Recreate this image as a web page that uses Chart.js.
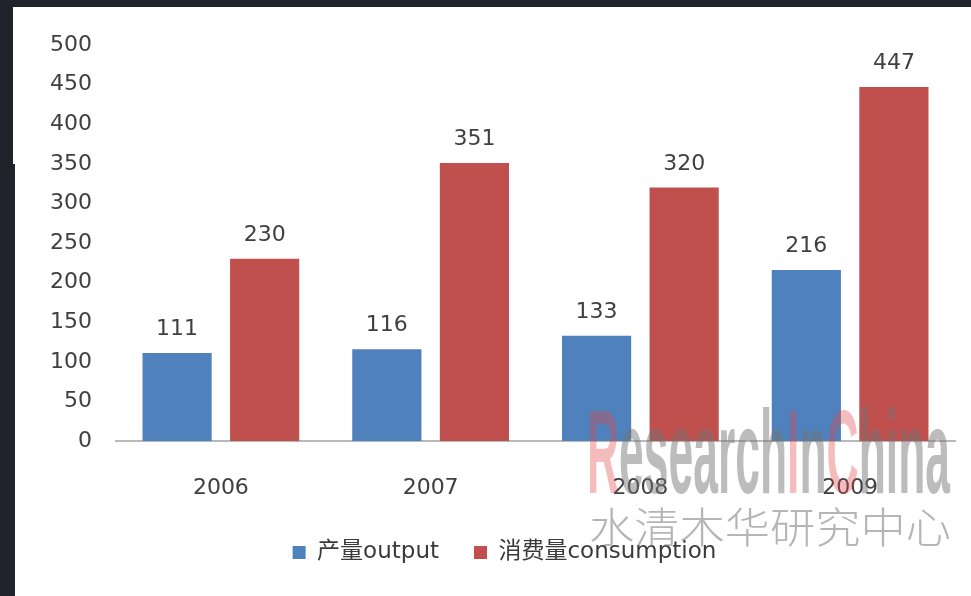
<!DOCTYPE html>
<html>
<head>
<meta charset="utf-8">
<script src="https://cdn.jsdelivr.net/npm/chart.js@4/dist/chart.umd.min.js"></script>
<style>
  html, body { margin: 0; padding: 0; background: #1f242c; width: 971px; height: 596px; overflow: hidden; }
  #p1 { position: absolute; left: 13px; top: 7px; width: 958px; height: 157px; background: #fff; }
  #p2 { position: absolute; left: 15px; top: 163px; width: 956px; height: 433px; background: #fff; }
  #wrap { position: absolute; left: 0; top: 0; width: 971px; height: 596px; }
</style>
</head>
<body>
<div id="p1"></div>
<div id="p2"></div>
<div id="wrap"><canvas id="c" width="971" height="596"></canvas></div>
<script>
const categories = ['2006', '2007', '2008', '2009'];
const outputValues = [111, 116, 133, 216];
const consumptionValues = [230, 351, 320, 447];
const seriesNames = ['产量output', '消费量consumption'];
const yMax = 500;
const yStep = 50;
const watermarkLatin = 'ResearchInChina';
const watermarkCJK = '水清木华研究中心';

const numFont = "'DejaVu Sans', 'Noto Sans CJK SC', sans-serif";

const valueLabels = {
  id: 'valueLabels',
  afterDatasetsDraw(chart) {
    const ctx = chart.ctx;
    ctx.save();
    ctx.font = "22px " + numFont;
    ctx.fillStyle = '#404040';
    ctx.textAlign = 'center';
    ctx.textBaseline = 'alphabetic';
    chart.data.datasets.forEach((ds, i) => {
      const meta = chart.getDatasetMeta(i);
      meta.data.forEach((bar, j) => {
        ctx.fillText(String(ds.data[j]), bar.x, bar.y - 18);
      });
    });
    ctx.restore();
  }
};

const watermark = {
  id: 'watermark',
  afterDatasetsDraw(chart) {
    const ctx = chart.ctx;
    ctx.save();
    ctx.font = "bold 119px 'Liberation Sans', Arial, sans-serif";
    ctx.textBaseline = 'alphabetic';
    ctx.textAlign = 'left';
    const full = ctx.measureText(watermarkLatin).width;
    const sx = 363 / full;
    ctx.translate(587, 493);
    ctx.scale(sx, 1);
    let x = 0;
    const pinkIdx = new Set([0, 8, 10]);
    for (let k = 0; k < watermarkLatin.length; k++) {
      const ch = watermarkLatin[k];
      ctx.fillStyle = pinkIdx.has(k) ? 'rgba(225,70,70,0.36)' : 'rgba(115,115,115,0.48)';
      ctx.fillText(ch, x, 0);
      x += ctx.measureText(ch).width;
    }
    ctx.restore();
    ctx.save();
    ctx.font = "300 42px 'Noto Sans CJK SC', sans-serif";
    ctx.textBaseline = 'alphabetic';
    const w2 = ctx.measureText(watermarkCJK).width;
    ctx.translate(589, 543);
    ctx.scale(362 / w2, 1);
    ctx.fillStyle = 'rgba(120,120,120,0.55)';
    ctx.fillText(watermarkCJK, 0, 0);
    ctx.restore();
  }
};

const legendShift = {
  id: 'legendShift',
  afterLayout(chart) {
    const lg = chart.legend;
    if (lg) { lg.left += 17; lg.right += 17; }
  }
};

new Chart(document.getElementById('c'), {
  type: 'bar',
  data: {
    labels: categories,
    datasets: [
      { label: seriesNames[0], data: outputValues, backgroundColor: '#4f81bd', categoryPercentage: 0.835, barPercentage: 0.79 },
      { label: seriesNames[1], data: consumptionValues, backgroundColor: '#c0504d', categoryPercentage: 0.835, barPercentage: 0.79 }
    ]
  },
  options: {
    responsive: false,
    animation: false,
    layout: { padding: { left: 20, right: 16, top: 45, bottom: 22 } },
    plugins: {
      tooltip: { enabled: false },
      legend: {
        position: 'bottom',
        labels: {
          boxWidth: 13,
          boxHeight: 13,
          padding: 35,
          color: '#3a3a3a',
          font: { size: 23, family: numFont }
        }
      }
    },
    scales: {
      x: {
        z: 1,
        grid: { display: false, drawTicks: false },
        border: { display: true, color: '#b9b9b9', width: 2 },
        ticks: { color: '#404040', font: { size: 22, family: numFont }, padding: 34 },
        afterFit(scale) { scale.height = 65; }
      },
      y: {
        min: 0,
        max: yMax,
        grid: { display: false, drawTicks: false },
        border: { display: false },
        ticks: { stepSize: yStep, color: '#404040', font: { size: 22, family: numFont }, padding: 24 },
        afterFit(scale) { scale.width = 96; }
      }
    }
  },
  plugins: [valueLabels, watermark, legendShift]
});
</script>
</body>
</html>
